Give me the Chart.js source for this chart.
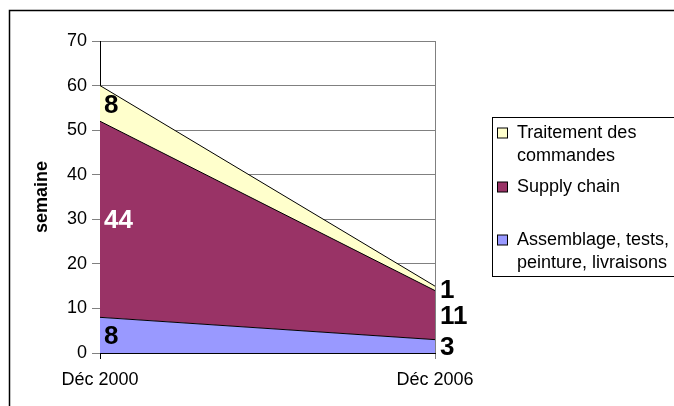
<!DOCTYPE html>
<html>
<head>
<meta charset="utf-8">
<script src="https://cdn.jsdelivr.net/npm/chart.js@4/dist/chart.umd.min.js"></script>
<style>
    html, body { margin: 0; padding: 0; background: #fff; }
    .chart-box { position: relative; width: 674px; height: 406px; }
</style>
</head>
<body>
<div class="chart-box"><canvas id="myChart" width="674" height="406"></canvas></div>
<script>
    "use strict";

    // data
    var periods = ['Déc 2000', 'Déc 2006'];
    var seriesNames = ['Assemblage, tests, peinture, livraisons', 'Supply chain', 'Traitement des commandes'];
    var assemblage = [8, 3];
    var supplyChain = [44, 11];
    var traitement = [8, 1];
    var yTicks = [0, 10, 20, 30, 40, 50, 60, 70];

    var colors = ['#9999ff', '#993366', '#ffffcc'];
    var labelColors = [['#000', '#000'], ['#fff', '#000'], ['#000', '#000']];
    var FONT = '"Liberation Sans", Arial, sans-serif';

    Chart.defaults.font.family = FONT;
    Chart.defaults.color = '#000';

    // border, legend and values drawn on the canvas
    var extras = {
        id: 'extras',
        afterDatasetsDraw: function (chart) {
            var ctx = chart.ctx;
            var zero = chart.scales.y.getPixelForValue(0);
            ctx.save();
            ctx.font = 'bold 26px ' + FONT;
            ctx.textAlign = 'left';
            ctx.textBaseline = 'middle';
            chart.data.datasets.forEach(function (ds, i) {
                var meta = chart.getDatasetMeta(i);
                meta.data.forEach(function (pt, j) {
                    var bottom = i === 0 ? zero : chart.getDatasetMeta(i - 1).data[j].y;
                    ctx.fillStyle = labelColors[i][j];
                    ctx.fillText(ds.data[j], pt.x + (j === 0 ? 4 : 5), (pt.y + bottom) / 2 + 2);
                });
            });
            ctx.restore();
        },
        afterDraw: function (chart) {
            var ctx = chart.ctx;
            ctx.save();
            ctx.strokeStyle = '#000';
            ctx.lineWidth = 1.5;
            ctx.strokeRect(9.5, 10.5, 720, 420);

            // legend
            ctx.lineWidth = 1;
            ctx.strokeRect(492.5, 117.5, 220, 159);
            ctx.font = '18px ' + FONT;
            ctx.textBaseline = 'middle';
            ctx.fillStyle = '#000';
            var rows = [133, 187, 240];
            for (var k = chart.data.datasets.length - 1, r = 0; k >= 0; k--, r++) {
                var ds = chart.data.datasets[k];
                var words = ds.label.split(' ');
                var lines = [], line = '';
                words.forEach(function (w) {
                    var test = line ? line + ' ' + w : w;
                    if (ctx.measureText(test).width > 158 && line) {
                        lines.push(line);
                        line = w;
                    } else {
                        line = test;
                    }
                });
                lines.push(line);
                ctx.fillStyle = ds.backgroundColor;
                ctx.fillRect(497.5, rows[r] - 5, 10, 10);
                ctx.strokeRect(497.5, rows[r] - 5, 10, 10);
                ctx.fillStyle = '#000';
                lines.forEach(function (t, n) {
                    ctx.fillText(t, 517, rows[r] + n * 23.5);
                });
            }
            ctx.restore();
        }
    };

    var ctx = document.getElementById('myChart');
    var chart = new Chart(ctx, {
        type: 'line',
        data: {
            labels: periods,
            datasets: [{
                label: seriesNames[0],
                data: assemblage,
                backgroundColor: colors[0],
                fill: 'origin'
            }, {
                label: seriesNames[1],
                data: supplyChain,
                backgroundColor: colors[1],
                fill: '-1'
            }, {
                label: seriesNames[2],
                data: traitement,
                backgroundColor: colors[2],
                fill: '-1'
            }]
        },
        options: {
            responsive: false,
            animation: false,
            devicePixelRatio: 1,
            layout: { padding: { top: 41, right: 239, bottom: 0, left: 0 } },
            elements: {
                line: { borderColor: '#000', borderWidth: 1, tension: 0 },
                point: { radius: 0 }
            },
            plugins: {
                legend: { display: false },
                tooltip: { enabled: false }
            },
            scales: {
                x: {
                    offset: false,
                    afterFit: function (scale) { scale.height = 53; },
                    grid: {
                        drawOnChartArea: true,
                        tickLength: 6,
                        color: function (c) { return c.index === 0 ? '#000' : '#808080'; }
                    },
                    border: { color: '#000' },
                    ticks: { font: { size: 18 }, padding: 10, maxRotation: 0 }
                },
                y: {
                    stacked: true,
                    min: 0,
                    max: 70,
                    afterFit: function (scale) { scale.width = 100; },
                    afterBuildTicks: function (scale) {
                        scale.ticks = yTicks.map(function (v) { return { value: v }; });
                    },
                    grid: { color: '#808080', tickLength: 8 },
                    border: { color: '#000' },
                    ticks: { font: { size: 18 }, padding: 5 },
                    title: {
                        display: true,
                        text: 'semaine',
                        font: { size: 18, weight: 'bold' },
                        padding: { top: 31, bottom: 0 }
                    }
                }
            }
        },
        plugins: [extras]
    });
</script>
</body>
</html>
